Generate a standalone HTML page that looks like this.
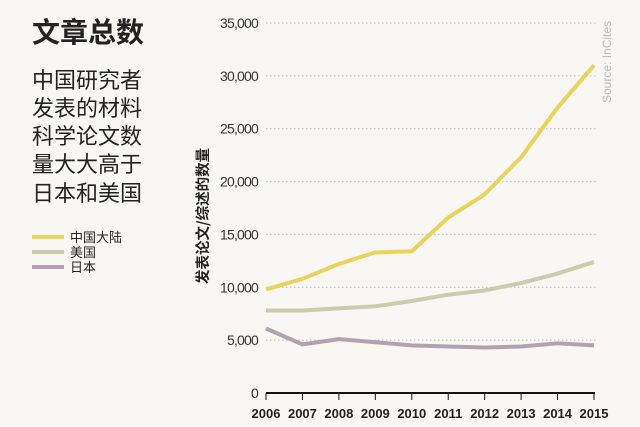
<!DOCTYPE html>
<html><head><meta charset="utf-8"><style>
body{margin:0;background:#f8f7f3;width:640px;height:427px;overflow:hidden;font-family:"Liberation Sans","Noto Sans CJK SC",sans-serif}
svg{position:absolute;left:0;top:0}
</style></head><body>
<svg width="640" height="427">
<text x="32" y="42" font-size="28" font-weight="bold" fill="#222" font-family="Noto Sans CJK SC,sans-serif">文章总数</text>
<g font-size="22" fill="#222" font-family="Noto Sans CJK SC,sans-serif">
<text x="32" y="88">中国研究者</text><text x="32" y="116">发表的材料</text><text x="32" y="144">科学论文数</text><text x="32" y="172">量大大高于</text><text x="32" y="201">日本和美国</text>
</g>
<g id="legend"></g>
<g id="grid"></g><g id="lines"></g><g id="axes"></g>
<text transform="translate(611,103) rotate(-90)" font-size="12" fill="#bbb">Source: InCites</text>
<text transform="translate(208,284) rotate(-90)" font-size="14.5" font-weight="bold" fill="#222" font-family="Noto Sans CJK SC,sans-serif">发表论文/综述的数量</text>
</svg>
<script>
const years=[2006,2007,2008,2009,2010,2011,2012,2013,2014,2015];
const yTicks=[0,5000,10000,15000,20000,25000,30000,35000];
const china=[9800,10800,12200,13300,13400,16600,18800,22300,27000,31000];
const usa=[7800,7800,8000,8200,8700,9300,9700,10400,11300,12400];
const japan=[6100,4600,5100,4800,4500,4400,4300,4400,4700,4500];
const seriesNames=["中国大陆","美国","日本"];
const NS="http://www.w3.org/2000/svg";
const x=i=>266+i*(594-266)/(years.length-1);
const y=v=>393-v*(370/35000);
function mk(t,a,p){const e=document.createElementNS(NS,t);for(const k in a)e.setAttribute(k,a[k]);p.appendChild(e);return e;}
const grid=document.getElementById('grid'),axes=document.getElementById('axes'),lines=document.getElementById('lines'),leg=document.getElementById('legend');
yTicks.forEach(v=>{
 if(v>0){const g=mk('line',{x1:266,x2:596,y1:y(v),y2:y(v),stroke:'#bbb','stroke-dasharray':'1.5 2.5'},grid);
 
 }
 const t=mk('text',{x:258,y:y(v)+5,'text-anchor':'end','font-size':14,fill:'#333','letter-spacing':'-0.8'},axes);
 t.textContent=v.toLocaleString('en-US');
 
 
});
const ax=mk('line',{x1:266,x2:595,y1:393,y2:393,stroke:'#111','stroke-width':2},axes);


years.forEach((yr,i)=>{
 const tk=mk('line',{x1:x(i),x2:x(i),y1:393,y2:400,stroke:'#111','stroke-width':1},axes);
 
 
 const t=mk('text',{x:x(i),y:418,'text-anchor':'middle','font-size':13,'font-weight':'bold',fill:'#222'},axes);
 t.textContent=yr;
 
 
});
const data=[china,usa,japan],cols=['#e9d35c','#c8cdab','#b3a2ad'];
data.forEach((s,k)=>{
 const p=mk('polyline',{points:s.map((v,i)=>x(i)+','+y(v)).join(' '),fill:'none',stroke:cols[k],'stroke-width':4,'stroke-linejoin':'round'},lines);
 
 
 const ly=237+k*15;
 const l=mk('line',{x1:32,x2:64,y1:ly,y2:ly,stroke:cols[k],'stroke-width':4},leg);
 
 
 const t=mk('text',{x:70,y:ly+5,'font-size':13,fill:'#222','font-family':'Noto Sans CJK SC,sans-serif'},leg);
 t.textContent=seriesNames[k];
 
 
});
</script>
</body></html>
